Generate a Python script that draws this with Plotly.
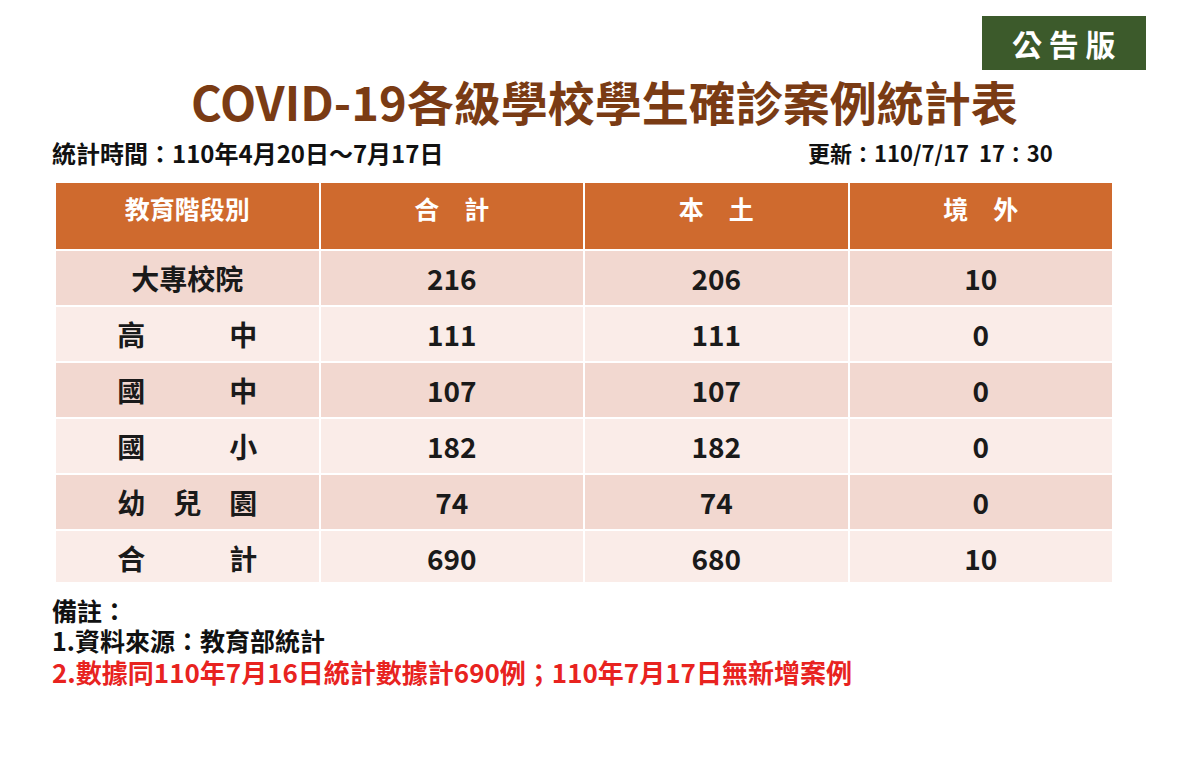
import plotly.graph_objects as go

headers = ["教育階段別", "合　計", "本　土", "境　外"]
levels = ["大專校院", "高　　　中", "國　　　中", "國　　　小", "幼　兒　園", "合　　　計"]
total = [216, 111, 107, 182, 74, 690]
local = [206, 111, 107, 182, 74, 680]
overseas = [10, 0, 0, 0, 0, 10]

W, H = 1200, 760
O = 8  # page offset
F = "Noto Sans CJK TC"
fills = ["#F2D8D0", "#FAECE8"] * 3

def px(x): return (x - O) / W
def py(y): return 1 - (y - O) / H

b = lambda v: [f"<b>{x}</b>" for x in v]

fig = go.Figure(go.Table(
    domain=dict(x=[px(55), px(1113)], y=[py(582), py(182)]),
    columnwidth=[1, 1, 1, 1],
    header=dict(values=b(headers), fill_color="#CF6A2E",
                font=dict(family=F, size=25, color="white"), height=68,
                line=dict(color="white", width=2), align="center"),
    cells=dict(values=[b(levels), b(total), b(local), b(overseas)], fill_color=[fills] * 4,
               font=dict(family=F, size=28, color="#1a1a1a"), height=54,
               line=dict(color="white", width=2), align="center"),
))

ann = [
    dict(x=px(604), y=py(100), text="<b>COVID-19各級學校學生確診案例統計表</b>",
         font=dict(family=F, size=47, color="#7A3B14"), xanchor="center"),
    dict(x=px(50), y=py(152), text="<b>統計時間：110年4月20日～7月17日</b>",
         font=dict(family=F, size=24, color="#111"), xanchor="left"),
    dict(x=px(1055), y=py(152), text="<b>更新：110/7/17  17：30</b>",
         font=dict(family=F, size=22, color="#111"), xanchor="right"),
    dict(x=px(1064), y=py(43), text="<b>公 告 版</b>",
         font=dict(family=F, size=30, color="white"), xanchor="center"),
    dict(x=px(50), y=py(610), text="<b>備註：</b>",
         font=dict(family=F, size=25, color="#111"), xanchor="left"),
    dict(x=px(50), y=py(640), text="<b>1.資料來源：教育部統計</b>",
         font=dict(family=F, size=25, color="#111"), xanchor="left"),
    dict(x=px(50), y=py(671), text="<b>2.數據同110年7月16日統計數據計690例；110年7月17日無新增案例</b>",
         font=dict(family=F, size=26, color="#E8231F"), xanchor="left"),
]
for a in ann:
    a.update(xref="paper", yref="paper", yanchor="middle", showarrow=False)

fig.update_layout(
    width=W, height=H, margin=dict(l=0, r=0, t=0, b=0),
    paper_bgcolor="white", plot_bgcolor="white", annotations=ann,
    shapes=[dict(type="rect", xref="paper", yref="paper", x0=px(982), x1=px(1146),
                 y0=py(70), y1=py(16), fillcolor="#3C5A2B", line=dict(width=0), layer="below")],
)
fig.write_html("out.html")
